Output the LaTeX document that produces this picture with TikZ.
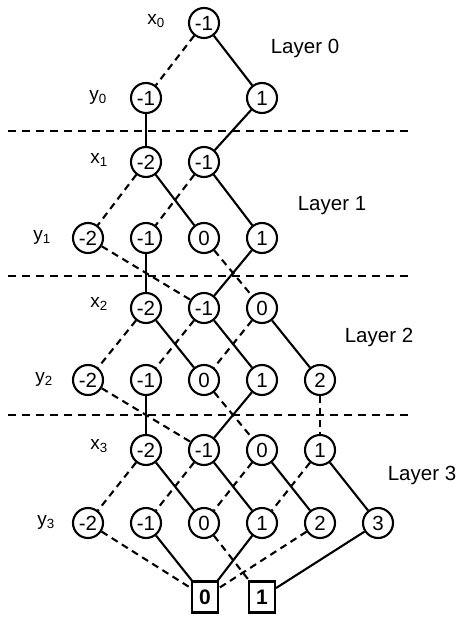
\documentclass[tikz,border=0pt]{standalone}
\usepackage{fontspec}
\setmainfont{Liberation Sans}
\begin{document}
\begin{tikzpicture}[x=1pt,y=-1pt,
  st/.style={circle,draw,line width=2.1pt,minimum size=30pt,inner sep=0pt,
    font=\fontsize{20.5}{22}\selectfont,text height=14.5pt,text depth=0pt},
  term/.style={rectangle,draw,line width=2.1pt,minimum width=26pt,minimum height=31pt,inner sep=0pt,
    font=\fontsize{21}{22}\selectfont\bfseries,text height=15pt,text depth=0pt},
  lbl/.style={font=\fontsize{19}{20}\selectfont,inner sep=0pt},
  layer/.style={font=\fontsize{20.5}{22}\selectfont,inner sep=0pt},
  sol/.style={line width=2.1pt},
  dsh/.style={line width=2.1pt,dash pattern=on 7pt off 5pt},
  sep/.style={line width=2.1pt,dash pattern=on 8pt off 6pt}]
\useasboundingbox (0,0) rectangle (458,617);
% Layer 0
\node[st] (x0m1) at (204,23) {-1};
\node[st] (y0m1) at (146,98) {-1};
\node[st] (y0p1) at (262,98) {1};
% Layer 1
\node[st] (x1m2) at (146,162) {-2};
\node[st] (x1m1) at (204,162) {-1};
\node[st] (y1m2) at (88,238) {-2};
\node[st] (y1m1) at (146,238) {-1};
\node[st] (y1z) at (204,238) {0};
\node[st] (y1p1) at (262,238) {1};
% Layer 2
\node[st] (x2m2) at (146,308) {-2};
\node[st] (x2m1) at (204,308) {-1};
\node[st] (x2z) at (262,308) {0};
\node[st] (y2m2) at (88,380) {-2};
\node[st] (y2m1) at (146,380) {-1};
\node[st] (y2z) at (204,380) {0};
\node[st] (y2p1) at (262,380) {1};
\node[st] (y2p2) at (320,380) {2};
% Layer 3
\node[st] (x3m2) at (146,450) {-2};
\node[st] (x3m1) at (204,450) {-1};
\node[st] (x3z) at (262,450) {0};
\node[st] (x3p1) at (320,450) {1};
\node[st] (y3m2) at (88,523) {-2};
\node[st] (y3m1) at (146,523) {-1};
\node[st] (y3z) at (204,523) {0};
\node[st] (y3p1) at (262,523) {1};
\node[st] (y3p2) at (320,523) {2};
\node[st] (y3p3) at (378,523) {3};
% terminals
\node[term] (b0) at (205,597) {0};
\node[term] (b1) at (262,597) {1};
% row labels
\node[lbl] (lx0) at (156,21) {x\textsubscript{0}};
\node[lbl] (ly0) at (98,97) {y\textsubscript{0}};
\node[lbl] (lx1) at (99,160) {x\textsubscript{1}};
\node[lbl] (ly1) at (42,237) {y\textsubscript{1}};
\node[lbl] (lx2) at (99,304) {x\textsubscript{2}};
\node[lbl] (ly2) at (44,379) {y\textsubscript{2}};
\node[lbl] (lx3) at (99,446) {x\textsubscript{3}};
\node[lbl] (ly3) at (46,522) {y\textsubscript{3}};
% layer labels
\node[layer] (L0) at (305,48) {Layer 0};
\node[layer] (L1) at (332,206) {Layer 1};
\node[layer] (L2) at (379,337) {Layer 2};
\node[layer] (L3) at (422,475) {Layer 3};
% separators
\coordinate (s1a) at (8,131); \coordinate (s1b) at (413,131);
\coordinate (s2a) at (8,276); \coordinate (s2b) at (413,276);
\coordinate (s3a) at (8,415); \coordinate (s3b) at (413,415);
\draw[sep] (s1a) -- (s1b);
\draw[sep] (s2a) -- (s2b);
\draw[sep] (s3a) -- (s3b);
% edges layer 0
\draw[dsh] (x0m1) -- (y0m1);
\draw[sol] (x0m1) -- (y0p1);
\draw[sol] (y0m1) -- (x1m2);
\draw[sol] (y0p1) -- (x1m1);
% layer 1
\draw[dsh] (x1m2) -- (y1m2);
\draw[sol] (x1m2) -- (y1z);
\draw[dsh] (x1m1) -- (y1m1);
\draw[sol] (x1m1) -- (y1p1);
\draw[dsh] (y1m2) -- (x2m1);
\draw[sol] (y1m1) -- (x2m2);
\draw[dsh] (y1z) -- (x2z);
\draw[sol] (y1p1) -- (x2m1);
% layer 2
\draw[dsh] (x2m2) -- (y2m2);
\draw[sol] (x2m2) -- (y2z);
\draw[dsh] (x2m1) -- (y2m1);
\draw[sol] (x2m1) -- (y2p1);
\draw[dsh] (x2z) -- (y2z);
\draw[sol] (x2z) -- (y2p2);
\draw[dsh] (y2m2) -- (x3m1);
\draw[sol] (y2m1) -- (x3m2);
\draw[dsh] (y2z) -- (x3z);
\draw[sol] (y2p1) -- (x3m1);
\draw[dsh] (y2p2) -- (x3p1);
% layer 3
\draw[dsh] (x3m2) -- (y3m2);
\draw[sol] (x3m2) -- (y3z);
\draw[dsh] (x3m1) -- (y3m1);
\draw[sol] (x3m1) -- (y3p1);
\draw[dsh] (x3z) -- (y3z);
\draw[sol] (x3z) -- (y3p2);
\draw[dsh] (x3p1) -- (y3p1);
\draw[sol] (x3p1) -- (y3p3);
% to terminals
\draw[dsh] (y3m2) -- (b0);
\draw[sol] (y3m1) -- (b0);
\draw[dsh] (y3z) -- (b1);
\draw[sol] (y3p1) -- (b0);
\draw[dsh] (y3p2) -- (b0);
\draw[sol] (y3p3) -- (b1);
\end{tikzpicture}
\end{document}
